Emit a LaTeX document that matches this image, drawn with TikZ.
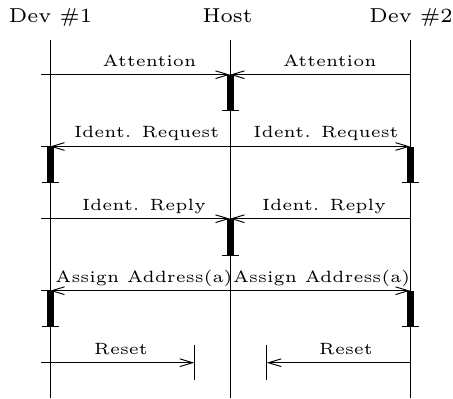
\documentclass[tikz,border=0pt]{standalone}
\usetikzlibrary{arrows.meta}
\begin{document}
\begin{tikzpicture}[x=0.3125pt,y=-0.3125pt,
  life/.style={line width=0.3pt},
  msg/.style={line width=0.3pt,-{Straight Barb[length=4pt,width=2.4pt,line width=0.3pt]}},
  lbl/.style={font=\fontsize{5.1}{6}\selectfont,anchor=base,inner sep=0pt},
  ttl/.style={font=\fontsize{6.3}{7.5}\selectfont,anchor=base,inner sep=0pt},
  actbar/.style={fill=black,draw=none},
  barcap/.style={line width=0.3pt}]
\useasboundingbox (0,0) rectangle (453,398);
% titles
\node[ttl] (t1) at (50.5,22.7) {Dev \#1};
\node[ttl] (th) at (227.5,22.7) {Host};
\node[ttl] (t2) at (411,22.7) {Dev \#2};
% lifelines
\coordinate (d1top) at (50,40);  \coordinate (d1bot) at (50,398);
\coordinate (hotop) at (230,40); \coordinate (hobot) at (230,398);
\coordinate (d2top) at (410,40); \coordinate (d2bot) at (410,398);
\draw[life] (d1top) -- (d1bot);
\draw[life] (hotop) -- (hobot);
\draw[life] (d2top) -- (d2bot);
% message rows
\foreach \n/\y in {1/74.7,2/146.5,3/218.7,4/290.7,5/362.7}{
  \coordinate (x\n) at (41,\y);
  \coordinate (a\n) at (50,\y);
  \coordinate (h\n) at (230,\y);
  \coordinate (b\n) at (410,\y);
  \draw[life] (x\n) -- (a\n);
}
% activation bars
\fill[actbar] (226.5,74.7) rectangle (233.5,110.7);
\draw[barcap] (221.5,110.7) -- (238.5,110.7);
\fill[actbar] (46.5,146.5) rectangle (53.5,182.3);
\draw[barcap] (41.5,182.3) -- (58.5,182.3);
\fill[actbar] (406.5,146.5) rectangle (413.5,182.3);
\draw[barcap] (401.5,182.3) -- (418.5,182.3);
\fill[actbar] (226.5,218.7) rectangle (233.5,255);
\draw[barcap] (221.5,255) -- (238.5,255);
\fill[actbar] (46.5,290.7) rectangle (53.5,326.3);
\draw[barcap] (41.5,326.3) -- (58.5,326.3);
\fill[actbar] (406.5,290.7) rectangle (413.5,326.3);
\draw[barcap] (401.5,326.3) -- (418.5,326.3);
% messages
\draw[msg] (a1) -- (h1);
\draw[msg] (b1) -- (h1);
\draw[msg] (h2) -- (a2);
\draw[msg] (h2) -- (b2);
\draw[msg] (a3) -- (h3);
\draw[msg] (b3) -- (h3);
\draw[msg] (h4) -- (a4);
\draw[msg] (h4) -- (b4);
\coordinate (r1) at (194.3,362.7);
\coordinate (r2) at (266.7,362.7);
\draw[msg] (a5) -- (r1);
\draw[msg] (b5) -- (r2);
\draw[barcap] (194.3,344.7) -- (194.3,380);
\draw[barcap] (266.7,344.7) -- (266.7,380);
% labels
\node[lbl] (l1a) at (149.5,66) {Attention};
\node[lbl] (l1b) at (329.8,66) {Attention};
\node[lbl] (l2a) at (146.7,137.8) {Ident. Request};
\node[lbl] (l2b) at (326,137.8) {Ident. Request};
\node[lbl] (l3a) at (144,210) {Ident. Reply};
\node[lbl] (l3b) at (324,210) {Ident. Reply};
\node[lbl] (l4a) at (144,282) {Assign Address(a)};
\node[lbl] (l4b) at (321.7,282) {Assign Address(a)};
\node[lbl] (l5a) at (121,354) {Reset};
\node[lbl] (l5b) at (346,354) {Reset};
\end{tikzpicture}
\end{document}
